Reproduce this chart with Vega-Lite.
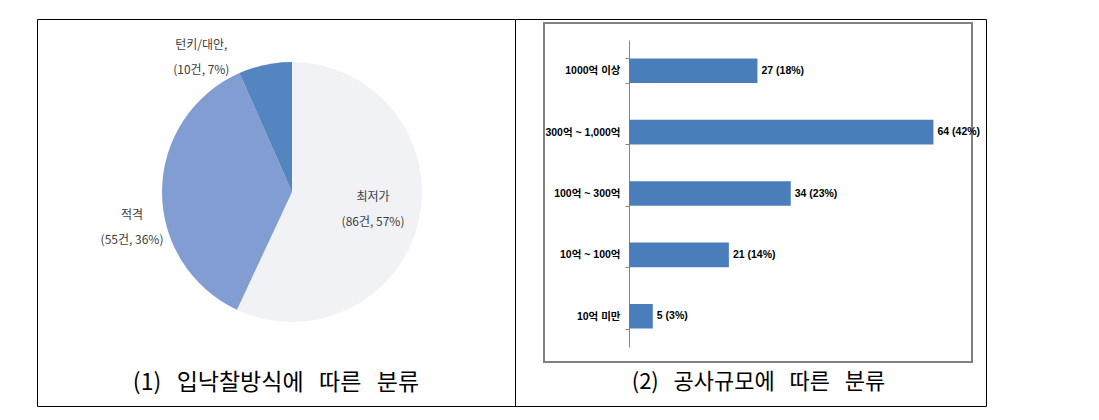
{
  "$schema": "https://vega.github.io/schema/vega-lite/v6.json",
  "padding": {"left": 36, "top": 13, "right": 0, "bottom": 0},
  "background": "white",
  "spacing": 0,
  "bounds": "flush",
  "config": {
    "concat": {"spacing": 0},
    "view": {"stroke": "black", "strokeWidth": 1},
    "title": {"font": "Noto Sans CJK KR", "fontSize": 22, "fontWeight": "normal", "color": "black"}
  },
  "hconcat": [
    {
      "width": 478,
      "height": 387,
      "title": {"text": "(1)\u00a0\u00a0\u00a0입낙찰방식에\u00a0\u00a0\u00a0따른\u00a0\u00a0\u00a0분류", "orient": "bottom", "anchor": "middle", "offset": -34, "fontSize": 23},
      "data": {"values": [
        {"method": "최저가", "count": 86, "rank": 1, "label": "최저가\n(86건, 57%)"},
        {"method": "적격", "count": 55, "rank": 2, "label": "적격\n(55건, 36%)"},
        {"method": "턴키/대안", "count": 10, "rank": 3, "label": "턴키/대안,\n(10건, 7%)"}
      ]},
      "layer": [
        {
          "data": {"values": [{"lo": 0, "hi": 1}]},
          "mark": {"type": "rect", "opacity": 0},
          "encoding": {
            "x": {"field": "lo", "type": "quantitative", "axis": null},
            "x2": {"field": "hi"},
            "y": {"field": "lo", "type": "quantitative", "axis": null},
            "y2": {"field": "hi"}
          }
        },
        {
          "mark": {"type": "arc", "outerRadius": 130, "x": 255, "y": 173},
          "encoding": {
            "theta": {"field": "count", "type": "quantitative", "stack": true},
            "order": {"field": "rank", "type": "quantitative"},
            "color": {"field": "method", "type": "nominal", "legend": null,
              "scale": {"domain": ["최저가", "적격", "턴키/대안"], "range": ["#f1f2f6", "#819dd2", "#5585c0"]}}
          }
        },
        {
          "mark": {"type": "text", "x": 255, "y": 173, "radius": 83, "dy": -13, "lineBreak": "\n", "lineHeight": 25, "align": "center", "baseline": "middle", "font": "Noto Sans CJK KR", "fontSize": 12, "color": "#404040"},
          "encoding": {
            "theta": {"field": "count", "type": "quantitative", "stack": true},
            "order": {"field": "rank", "type": "quantitative"},
            "text": {"condition": {"test": "datum.method === '최저가'", "field": "label"}, "value": ""}
          }
        },
        {
          "mark": {"type": "text", "x": 255, "y": 173, "radius": 160, "dy": 24.5, "lineBreak": "\n", "lineHeight": 25, "align": "center", "baseline": "middle", "font": "Noto Sans CJK KR", "fontSize": 12, "color": "#404040"},
          "encoding": {
            "theta": {"field": "count", "type": "quantitative", "stack": true},
            "order": {"field": "rank", "type": "quantitative"},
            "text": {"condition": {"test": "datum.method === '적격'", "field": "label"}, "value": ""}
          }
        },
        {
          "mark": {"type": "text", "x": 255, "y": 173, "radius": 163, "dx": -57, "dy": 12.5, "lineBreak": "\n", "lineHeight": 25, "align": "center", "baseline": "middle", "font": "Noto Sans CJK KR", "fontSize": 12, "color": "#404040"},
          "encoding": {
            "theta": {"field": "count", "type": "quantitative", "stack": true},
            "order": {"field": "rank", "type": "quantitative"},
            "text": {"condition": {"test": "datum.method === '턴키/대안'", "field": "label"}, "value": ""}
          }
        }
      ]
    },
    {
      "width": 471,
      "height": 387,
      "title": {"text": "(2)\u00a0\u00a0\u00a0공사규모에\u00a0\u00a0\u00a0따른\u00a0\u00a0\u00a0분류", "orient": "bottom", "anchor": "middle", "offset": -34, "dx": 8},
      "resolve": {"scale": {"x": "independent", "y": "independent"}},
      "layer": [
        {
          "data": {"values": [{"lo": 0, "hi": 1}]},
          "mark": {"type": "rect", "fill": "transparent", "stroke": "#808080", "strokeWidth": 2},
          "encoding": {
            "x": {"field": "lo", "type": "quantitative", "scale": {"domain": [0, 1], "range": [29, 457]}, "axis": null},
            "x2": {"field": "hi"},
            "y": {"field": "lo", "type": "quantitative", "scale": {"domain": [0, 1], "range": [4, 343]}, "axis": null},
            "y2": {"field": "hi"}
          }
        },
        {
          "data": {"values": [
            {"size": "1000억 이상", "count": 27, "label": "27 (18%)"},
            {"size": "300억 ~ 1,000억", "count": 64, "label": "64 (42%)"},
            {"size": "100억 ~ 300억", "count": 34, "label": "34 (23%)"},
            {"size": "10억 ~ 100억", "count": 21, "label": "21 (14%)"},
            {"size": "10억 미만", "count": 5, "label": "5 (3%)"}
          ]},
          "encoding": {
            "y": {"field": "size", "type": "nominal", "sort": null,
              "scale": {"range": [21, 328], "paddingInner": 0.6, "paddingOuter": 0.3},
              "axis": {"title": null, "offset": -114, "domainColor": "#868686", "tickColor": "#868686", "tickSize": 4, "tickBand": "extent",
                "labelFont": "Liberation Sans, Noto Sans CJK KR, sans-serif", "labelFontSize": 10.5, "labelFontWeight": "bold", "labelColor": "black", "labelPadding": 5}},
            "x": {"field": "count", "type": "quantitative", "scale": {"domain": [0, 70], "range": [114, 447]}, "axis": null}
          },
          "layer": [
            {"mark": {"type": "bar", "color": "#4a7ebb"}},
            {
              "mark": {"type": "text", "align": "left", "baseline": "middle", "dx": 4, "font": "Liberation Sans, Noto Sans CJK KR, sans-serif", "fontSize": 10.5, "fontWeight": "bold", "color": "black"},
              "encoding": {"text": {"field": "label", "type": "nominal"}}
            }
          ]
        }
      ]
    }
  ]
}
